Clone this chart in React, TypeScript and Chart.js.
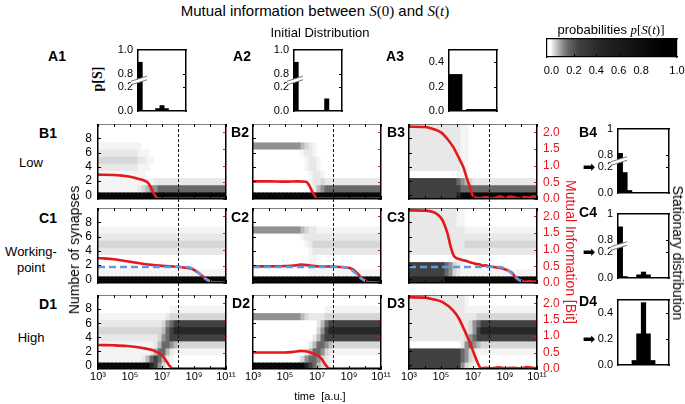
import React, { useEffect, useRef } from "react";
import { Chart, registerables } from "chart.js";

Chart.register(...registerables);

const SANS = "'Liberation Sans', Arial, Helvetica, sans-serif";
const SERIF = "'Liberation Serif', 'DejaVu Serif', 'Times New Roman', serif";
const RED = "#e3191c";
const BLUE = "#5b9be3";
Chart.defaults.font.family = SANS;

// ---------------- data ----------------
const LOG_T_MIN = 3;
const LOG_T_MAX = 11;
const LOG_T_STEP = 0.25; // width of one heatmap column, in decades
const THRESHOLD_LOG_T = 8;
const X_TICKS = [3, 4, 5, 6, 7, 8, 9, 10, 11];
const X_LABELLED = [3, 5, 7, 9, 11];
const SYN_MIN = -0.5;
const SYN_MAX = 10;
const SYN_TICKS = [0, 2, 4, 6, 8];
const MI_MAX = 2.25;
const MI_TICKS = [0, 0.5, 1, 1.5, 2];

// heatmap cell code (digit) -> probability
const PROB_LEVELS = [0, 0.005, 0.015, 0.03, 0.06, 0.1, 0.15, 0.25, 0.45, 0.9];
// probability -> gray value
const GRAY_STOPS = [
  [0, 255], [0.005, 244], [0.015, 232], [0.03, 214], [0.06, 185], [0.1, 145],
  [0.15, 105], [0.25, 65], [0.45, 38], [0.9, 8], [1, 0],
];

// Heatmaps: rows from state 10 (top) to state 0 (bottom); 32 columns from 10^3 to 10^11
const HEAT_B1 = [
  "00000000 00000000 00000000 00000000",
  "00000000 00000000 00000000 00000000",
  "00000000 00000000 00000000 00000000",
  "11111111 11100000 00000000 00000000",
  "22222222 22111000 00000000 00000000",
  "33333333 33221100 00000000 00000000",
  "22222222 22111000 00000000 00000000",
  "11111111 11110000 00000000 00000000",
  "11111111 11111122 22222222 22222222",
  "11111111 11234556 66666666 66666666",
  "99999999 99999999 99999999 99999999",
];
const HEAT_B2 = [
  "00000000 00000000 00000000 00000000",
  "00000000 00000000 00000000 00000000",
  "00000000 00000000 00000000 00000000",
  "55555555 55554321 00000000 00000000",
  "00000000 00001221 00000000 00000000",
  "00000000 00000122 10000000 00000000",
  "00000000 00000122 10000000 00000000",
  "00000000 00000012 21000000 00000000",
  "00000000 00000012 23222222 22222222",
  "00000000 00000002 45666666 66666666",
  "99999999 99999999 99999999 99999999",
];
const HEAT_B3 = [
  "22222222 22222110 00000000 00000000",
  "22222222 22222110 00000000 00000000",
  "22222222 22222110 00000000 00000000",
  "22222222 22222110 00000000 00000000",
  "22222222 22222110 00000000 00000000",
  "22222222 22222110 00000000 00000000",
  "22222222 22222110 00000000 00000000",
  "00000000 00001110 00000000 00000000",
  "77777777 77776543 22222222 22222222",
  "77777777 77777666 66666666 66666666",
  "77777777 77778999 99999999 99999999",
];
const HEAT_C1 = [
  "00000000 00000000 00000000 00000000",
  "00000000 00000000 00000000 00000000",
  "00000000 00000000 00000000 00000000",
  "11111111 11111111 11111111 11111111",
  "22222222 22222222 22222222 22222222",
  "33333333 33333333 33333333 33333333",
  "22222222 22222222 22222222 22222222",
  "00000000 00000000 00000000 00000000",
  "00000000 00000000 00000000 00000000",
  "11111111 11111111 11111111 11111111",
  "99999999 99999999 99999999 99999999",
];
const HEAT_C2 = [
  "00000000 00000000 00000000 00000000",
  "00000000 00000000 00000000 00000000",
  "00000000 00000000 00000000 00000000",
  "55555555 55554322 11111111 11111111",
  "00000000 00001222 22222222 22222222",
  "00000000 00000123 33333333 33333333",
  "00000000 00000012 22222222 22222222",
  "00000000 00000011 00000000 00000000",
  "00000000 00000011 00000000 00000000",
  "00000000 00000011 11111111 11111111",
  "99999999 99999999 99999999 99999999",
];
const HEAT_C3 = [
  "22222222 22221100 00000000 00000000",
  "22222222 22221100 00000000 00000000",
  "22222222 22221100 00000000 00000000",
  "22222222 22222211 11111111 11111111",
  "22222222 22222222 22222222 22222222",
  "22222222 22222233 33333333 33333333",
  "22222222 22222222 22222222 22222222",
  "00000000 00001100 00000000 00000000",
  "77777777 76532100 00000000 00000000",
  "77777777 76532111 11111111 11111111",
  "88888888 89999999 99999999 99999999",
];
const HEAT_D1 = [
  "00000000 00000000 00000000 00000000",
  "00000000 00000000 00000000 00000000",
  "00000000 00000000 00111111 11111111",
  "11111111 11111111 12333333 33333333",
  "22222222 22222222 35677777 77777777",
  "33333333 33333333 46788888 88888888",
  "22222222 22222223 56777777 77777777",
  "11111111 11111124 66543333 33333333",
  "11111111 11111246 64211111 11111111",
  "11111111 11124676 42100000 00000000",
  "99999999 99999875 31000000 00000000",
];
const HEAT_D2 = [
  "00000000 00000000 00000000 00000000",
  "00000000 00000000 00000000 00000000",
  "00000000 00000000 00111111 11111111",
  "55555555 55554322 22333333 33333333",
  "00000000 00000000 24677777 77777777",
  "00000000 00000000 35788888 88888888",
  "00000000 00000002 46777777 77777777",
  "00000000 00000024 66543333 33333333",
  "00000000 00000246 65321111 11111111",
  "00000000 00013566 53210000 00000000",
  "99999999 99999876 43210000 00000000",
];
const HEAT_D3 = [
  "22222222 22222210 00000000 00000000",
  "22222222 22222210 00000000 00000000",
  "22222222 22222211 11111111 11111111",
  "22222222 22222222 23333333 33333333",
  "22222222 22222223 56777777 77777777",
  "22222222 22222223 57888888 88888888",
  "22222222 22222235 67777777 77777777",
  "00000000 00000256 54333333 33333333",
  "77777777 77777653 21111111 11111111",
  "77777777 77777653 21000000 00000000",
  "77777777 77777532 10000000 00000000",
];

// Mutual information [bit] vs log10(time)
const MI_B1 = [[3, 0.73], [4, 0.72], [4.5, 0.7], [5, 0.67], [5.5, 0.61], [6, 0.53], [6.15, 0.47], [6.4, 0.25], [6.6, 0.08], [6.75, 0.01], [11, 0.01]];
const MI_B2 = [[3, 0.53], [4, 0.53], [5, 0.52], [5.8, 0.53], [6.3, 0.52], [6.5, 0.42], [6.7, 0.22], [6.9, 0.07], [7.05, 0.01], [11, 0.01]];
const MI_B3 = [[3, 2.17], [4, 2.16], [4.5, 2.1], [5, 2.0], [5.4, 1.8], [5.75, 1.57], [6.1, 1.25], [6.4, 0.95], [6.6, 0.65], [6.8, 0.37], [7.0, 0.09], [7.2, 0.04], [7.5, 0.03], [7.8, 0.06], [8.1, 0.02], [8.4, 0.04], [8.7, 0.08], [9.0, 0.03], [9.3, 0.07], [9.6, 0.05], [9.9, 0.02], [10.2, 0.06], [10.5, 0.04], [10.8, 0.08], [11, 0.05]];
const MI_C1 = [[3, 0.75], [4, 0.71], [4.8, 0.65], [5.5, 0.6], [6, 0.56], [6.85, 0.52], [7.5, 0.5], [8.1, 0.48], [8.6, 0.45], [8.9, 0.42], [9.3, 0.3], [9.75, 0.12], [10.15, 0.03], [10.5, 0.01], [11, 0.01]];
const MI_C2 = [[3, 0.5], [4, 0.5], [5, 0.51], [5.5, 0.52], [6, 0.55], [6.5, 0.53], [7, 0.5], [8, 0.49], [8.7, 0.47], [9.2, 0.42], [9.5, 0.3], [9.8, 0.15], [10.1, 0.05], [10.4, 0.01], [11, 0.02]];
const MI_C3 = [[3, 2.18], [4, 2.17], [4.5, 2.13], [4.8, 2.05], [5.1, 1.88], [5.4, 1.5], [5.6, 1.1], [5.8, 0.82], [6.0, 0.74], [6.2, 0.71], [6.4, 0.68], [6.6, 0.66], [6.8, 0.62], [7.0, 0.6], [7.2, 0.57], [7.4, 0.56], [7.6, 0.52], [7.8, 0.53], [8.0, 0.5], [8.2, 0.49], [8.4, 0.47], [8.6, 0.46], [8.8, 0.44], [9.0, 0.41], [9.2, 0.37], [9.45, 0.3], [9.6, 0.2], [9.75, 0.12], [9.9, 0.08], [10.1, 0.06], [10.3, 0.03], [10.5, 0.06], [10.7, 0.04], [11, 0.05]];
const MI_D1 = [[3, 0.73], [4, 0.72], [4.8, 0.7], [5.5, 0.66], [6, 0.62], [6.5, 0.56], [6.9, 0.45], [7.1, 0.36], [7.3, 0.22], [7.5, 0.08], [7.7, 0.01], [11, 0.01]];
const MI_D2 = [[3, 0.5], [4, 0.5], [5, 0.5], [5.5, 0.52], [6, 0.55], [6.3, 0.54], [6.6, 0.5], [7, 0.42], [7.3, 0.3], [7.5, 0.15], [7.7, 0.03], [7.9, 0.01], [11, 0.01]];
const MI_D3 = [[3, 2.18], [4, 2.17], [4.5, 2.12], [5.1, 2.03], [5.75, 1.78], [6.1, 1.55], [6.4, 1.25], [6.7, 0.92], [6.9, 0.68], [7.1, 0.42], [7.3, 0.18], [7.5, 0.02], [7.8, 0.04], [8.2, 0.02], [8.6, 0.05], [9, 0.02], [9.5, 0.04], [10, 0.02], [10.4, 0.06], [10.8, 0.03], [11, 0.03]];
// blue dashed reference curves (working point row)
const BLUE_C1 = [[3, 0.48], [8.5, 0.48], [8.9, 0.44], [9.3, 0.3], [9.7, 0.13], [10.1, 0.03], [10.5, 0], [11, 0]];
const BLUE_C2 = [[3, 0.48], [8.6, 0.48], [9.0, 0.43], [9.4, 0.3], [9.8, 0.12], [10.2, 0.02], [10.5, 0], [11, 0]];
const BLUE_C3 = [[3, 0.48], [8.6, 0.48], [9.0, 0.44], [9.4, 0.3], [9.8, 0.12], [10.2, 0.02], [10.5, 0], [11, 0]];

// Histograms: probability of states 0..10
const P_A1 = [0.9, 0.005, 0.002, 0.005, 0.02, 0.045, 0.02, 0.004, 0, 0, 0];
const P_A2 = [0.9, 0, 0, 0, 0, 0, 0, 0.1, 0, 0, 0];
const P_A3 = [0.3, 0.3, 0.3, 0, 0.014, 0.014, 0.014, 0.014, 0.014, 0.014, 0.014];
const P_B4 = [0.81, 0.16, 0.02, 0.004, 0, 0, 0, 0, 0, 0, 0];
const P_C4 = [0.9, 0.012, 0.002, 0.004, 0.025, 0.047, 0.025, 0.005, 0, 0, 0];
const P_D4 = [0, 0, 0.004, 0.035, 0.24, 0.48, 0.24, 0.035, 0.004, 0, 0];
const BROKEN_TICKS = [0, 0.2, 0.8, 1.0];
const BROKEN_LABELS_A = ["0.0", "0.2", "0.8", "1.0"];
const BROKEN_LABELS_S = ["0.0", "0.2", "0.8", "1"];
const PLAIN_TICKS = [0, 0.2, 0.4];
const PLAIN_LABELS = ["0.0", "0.2", "0.4"];
const BREAK_AT = 0.5;

// colour bar
const CBAR_MIN = -0.04;
const CBAR_MAX = 1.12;
const CBAR_TICKS = [0, 0.2, 0.4, 0.6, 0.8, 1.12];
const CBAR_LABELS = ["0.0", "0.2", "0.4", "0.6", "0.8", "1.0"];

// ---------------- layout ----------------
const COL_LEFT = [98, 253, 409];
const BOX_W = 128;
const ROW_TOP = [124, 208, 295];
const ROW_H = [75, 75, 74];
const LW = 24;
const RW = 30;
const XH = 20;
const TICK_LEN = 3;

// ---------------- helpers ----------------
function grayOf(p: number): string {
  const s = GRAY_STOPS;
  let g = s[s.length - 1][1];
  if (p <= s[0][0]) g = s[0][1];
  else {
    for (let i = 1; i < s.length; i++) {
      if (p <= s[i][0]) {
        const [p0, g0] = s[i - 1];
        const [p1, g1] = s[i];
        g = g0 + ((g1 - g0) * (p - p0)) / (p1 - p0);
        break;
      }
    }
  }
  const v = Math.round(g);
  return `rgb(${v},${v},${v})`;
}
const SUP: Record<string, string> = { "0": "⁰", "1": "¹", "2": "²", "3": "³", "4": "⁴", "5": "⁵", "6": "⁶", "7": "⁷", "8": "⁸", "9": "⁹" };
const sup = (n: number) => String(n).split("").map((d) => SUP[d]).join("");
function fix(size: number, dim: "width" | "height") {
  return (s: any) => {
    s[dim] = size;
    s.paddingLeft = 0; s.paddingRight = 0; s.paddingTop = 0; s.paddingBottom = 0;
  };
}
const ticksAt = (vals: number[]) => (s: any) => { s.ticks = vals.map((v) => ({ value: v })); };
const BORDER = { display: true, color: "#000", width: 1.5, z: 1 };
const NOGRID = { display: false, drawTicks: false };
const baseOptions = (padding: any) => ({
  animation: false, responsive: false, maintainAspectRatio: false, devicePixelRatio: 1, events: [],
  layout: { padding },
  plugins: { legend: { display: false }, tooltip: { enabled: false } },
});

function heatDecor(extendBelow: number) {
  return {
    id: "heatDecor",
    afterDatasetsDraw(chart: any) {
      const { ctx, chartArea: a, scales } = chart;
      ctx.save();
      ctx.lineWidth = 1;
      ctx.strokeStyle = "#000";
      ctx.beginPath();
      for (const v of X_TICKS) {
        const px = Math.round(scales.x.getPixelForValue(v)) + 0.5;
        ctx.moveTo(px, a.top); ctx.lineTo(px, a.top + TICK_LEN);
        ctx.moveTo(px, a.bottom); ctx.lineTo(px, a.bottom - TICK_LEN);
      }
      for (const v of SYN_TICKS) {
        const py = Math.round(scales.y.getPixelForValue(v)) + 0.5;
        ctx.moveTo(a.left, py); ctx.lineTo(a.left + TICK_LEN, py);
      }
      ctx.stroke();
      ctx.strokeStyle = RED;
      ctx.beginPath();
      for (const v of MI_TICKS) {
        const py = Math.round(scales.y2.getPixelForValue(v)) + 0.5;
        ctx.moveTo(a.right, py); ctx.lineTo(a.right - TICK_LEN, py);
      }
      ctx.stroke();
      const tx = Math.round(scales.x.getPixelForValue(THRESHOLD_LOG_T)) + 0.5;
      ctx.strokeStyle = "#111";
      ctx.setLineDash([3, 2]);
      ctx.beginPath();
      ctx.moveTo(tx, a.top); ctx.lineTo(tx, a.bottom + extendBelow);
      ctx.stroke();
      ctx.restore();
    },
  };
}

function heatConfig(p: any, r: number, c: number): any {
  const showLeft = c === 0, showRight = c === 2, showX = r === 2;
  const gap = r < 2 ? ROW_TOP[r + 1] - ROW_TOP[r] - ROW_H[r] : 0;
  const rows: string[] = p.heat.map((s: string) => s.replace(/\s+/g, ""));
  const topState = rows.length - 1;
  const bars = rows.map((row, k) => {
    const state = topState - k;
    const chars = row.split("");
    return {
      type: "bar", order: 3, xAxisID: "x", yAxisID: "y",
      data: chars.map((_, i) => ({ x: LOG_T_MIN + LOG_T_STEP * (i + 0.5), y: [state - 0.5, state + 0.5] })),
      backgroundColor: chars.map((ch) => grayOf(PROB_LEVELS[Number(ch)])),
      borderWidth: 0, barPercentage: 1, categoryPercentage: 1, grouped: false, inflateAmount: 0.5, clip: 0,
    };
  });
  const lines: any[] = [];
  if (p.blue) {
    lines.push({
      type: "line", order: 0, xAxisID: "x", yAxisID: "y2",
      data: p.blue.map(([x, y]: number[]) => ({ x, y })),
      borderColor: BLUE, borderWidth: 2.6, borderDash: [7, 4], pointRadius: 0,
      cubicInterpolationMode: "monotone", fill: false,
    });
  }
  lines.push({
    type: "line", order: 1, xAxisID: "x", yAxisID: "y2",
    data: p.mi.map(([x, y]: number[]) => ({ x, y })),
    borderColor: RED, borderWidth: 2.6, pointRadius: 0,
    cubicInterpolationMode: "monotone", fill: false,
  });
  return {
    type: "bar",
    data: { datasets: [...lines, ...bars] },
    options: {
      ...baseOptions({ left: 0, right: 0, top: 0, bottom: gap }),
      scales: {
        x: {
          type: "linear", position: "bottom", min: LOG_T_MIN, max: LOG_T_MAX, offset: false,
          grid: NOGRID, border: BORDER, afterBuildTicks: ticksAt(X_TICKS),
          ticks: {
            display: showX, autoSkip: false, maxRotation: 0, padding: 1, color: "#000",
            font: { family: SANS, size: 11 },
            callback: (v: number) => (X_LABELLED.includes(v) ? "10" + sup(v) : ""),
          },
          afterFit: fix(showX ? XH : 0, "height"),
        },
        x2: {
          type: "linear", position: "top", min: LOG_T_MIN, max: LOG_T_MAX, offset: false,
          grid: NOGRID, border: BORDER, ticks: { display: false }, afterFit: fix(0, "height"),
        },
        y: {
          type: "linear", position: "left", min: SYN_MIN, max: SYN_MAX,
          grid: NOGRID, border: BORDER, afterBuildTicks: ticksAt(SYN_TICKS),
          ticks: { display: showLeft, autoSkip: false, padding: 6, color: "#000", font: { family: SANS, size: 12 } },
          afterFit: fix(LW, "width"),
        },
        y2: {
          type: "linear", position: "right", min: 0, max: MI_MAX,
          grid: NOGRID, border: BORDER, afterBuildTicks: ticksAt(MI_TICKS),
          ticks: {
            display: showRight, autoSkip: false, padding: 6, color: RED, font: { family: SANS, size: 12 },
            callback: (v: number) => v.toFixed(1),
          },
          afterFit: fix(RW, "width"),
        },
      },
    },
    plugins: [heatDecor(gap)],
  };
}

const HLW = 26;
const HPT = 8;
function histDecor(broken: boolean, tickVals: number[]) {
  return {
    id: "histDecor",
    afterDraw(chart: any) {
      const { ctx, chartArea: a, scales } = chart;
      ctx.save();
      ctx.strokeStyle = "#000";
      ctx.lineWidth = 1;
      ctx.beginPath();
      for (const v of tickVals) {
        const py = Math.round(scales.y.getPixelForValue(v)) + 0.5;
        if (py <= a.top + 1 || py >= a.bottom - 1) continue;
        ctx.moveTo(a.right, py); ctx.lineTo(a.right - TICK_LEN, py);
      }
      ctx.stroke();
      if (broken) {
        const y = scales.y.getPixelForValue(BREAK_AT / 2);
        const x0 = a.left - 7, x1 = a.left + 9;
        ctx.strokeStyle = "#fff";
        ctx.lineWidth = 3.5;
        ctx.beginPath(); ctx.moveTo(x0, y + 2.5); ctx.lineTo(x1, y - 2.5); ctx.stroke();
        ctx.strokeStyle = "#777";
        ctx.lineWidth = 1;
        for (const d of [-1.8, 1.8]) {
          ctx.beginPath(); ctx.moveTo(x0, y + 2.5 + d); ctx.lineTo(x1, y - 2.5 + d); ctx.stroke();
        }
      }
      ctx.restore();
    },
  };
}

function histConfig(probs: number[], broken: boolean, labels: string[]): any {
  const mapV = (v: number) => (broken && v >= BREAK_AT ? v - BREAK_AT : v);
  const realTicks = broken ? BROKEN_TICKS : PLAIN_TICKS;
  const tickVals = realTicks.map(mapV);
  return {
    type: "bar",
    data: {
      datasets: [{
        data: probs.map((pv, i) => ({ x: i, y: mapV(pv) })),
        backgroundColor: "#000", borderWidth: 0, barPercentage: 1, categoryPercentage: 1,
        grouped: false, inflateAmount: 0.3, clip: 0,
      }],
    },
    options: {
      ...baseOptions({ left: 0, right: 4, top: HPT, bottom: 4 }),
      scales: {
        x: {
          type: "linear", position: "bottom", min: -0.5, max: probs.length - 0.5, offset: false,
          grid: NOGRID, border: BORDER, ticks: { display: false }, afterBuildTicks: ticksAt([]),
          afterFit: fix(0, "height"),
        },
        x2: {
          type: "linear", position: "top", min: -0.5, max: probs.length - 0.5, offset: false,
          grid: NOGRID, border: BORDER, ticks: { display: false }, afterFit: fix(0, "height"),
        },
        y: {
          type: "linear", position: "left", min: 0, max: 0.5,
          grid: NOGRID, border: BORDER, afterBuildTicks: ticksAt(tickVals),
          ticks: {
            autoSkip: false, padding: 5, color: "#000", font: { family: SANS, size: 11 },
            callback: (_v: number, i: number) => labels[i],
          },
          afterFit: fix(HLW, "width"),
        },
        y2: {
          type: "linear", position: "right", min: 0, max: 0.5,
          grid: NOGRID, border: BORDER, ticks: { display: false }, afterFit: fix(0, "width"),
        },
      },
    },
    plugins: [histDecor(broken, tickVals)],
  };
}

function cbarConfig(): any {
  const steps: number[] = [];
  for (let v = CBAR_MIN + 0.005; v < CBAR_MAX; v += 0.01) steps.push(v);
  return {
    type: "bar",
    data: {
      datasets: [{
        data: steps.map((v) => ({ x: v, y: 1 })),
        backgroundColor: steps.map((v) => grayOf(Math.min(1, Math.max(0, v)))),
        borderWidth: 0, barPercentage: 1, categoryPercentage: 1, grouped: false, inflateAmount: 0.5, clip: 0,
      }],
    },
    options: {
      ...baseOptions({ left: 12, right: 12, top: 2, bottom: 0 }),
      scales: {
        x: {
          type: "linear", position: "bottom", min: CBAR_MIN, max: CBAR_MAX, offset: false,
          grid: NOGRID, border: { ...BORDER, width: 1.2 }, afterBuildTicks: ticksAt(CBAR_TICKS),
          ticks: {
            autoSkip: false, maxRotation: 0, padding: 7, color: "#000", font: { family: SANS, size: 11 },
            callback: (_v: number, i: number) => CBAR_LABELS[i],
          },
          afterFit: fix(26, "height"),
        },
        x2: {
          type: "linear", position: "top", min: CBAR_MIN, max: CBAR_MAX, offset: false,
          grid: NOGRID, border: { ...BORDER, width: 1.2 }, ticks: { display: false }, afterFit: fix(0, "height"),
        },
        y: {
          type: "linear", position: "left", min: 0, max: 1, grid: NOGRID, border: { ...BORDER, width: 1.2 },
          ticks: { display: false }, afterFit: fix(0, "width"),
        },
        y2: {
          type: "linear", position: "right", min: 0, max: 1, grid: NOGRID, border: { ...BORDER, width: 1.2 },
          ticks: { display: false }, afterFit: fix(0, "width"),
        },
      },
    },
    plugins: [{
      id: "cbarTicks",
      afterDraw(chart: any) {
        const { ctx, chartArea: a, scales } = chart;
        ctx.save();
        ctx.strokeStyle = "#000";
        ctx.lineWidth = 1;
        ctx.beginPath();
        for (const v of CBAR_TICKS.slice(1, -1)) {
          const px = Math.round(scales.x.getPixelForValue(v)) + 0.5;
          ctx.moveTo(px, a.bottom); ctx.lineTo(px, a.bottom - TICK_LEN);
        }
        ctx.stroke();
        ctx.restore();
      },
    }],
  };
}

// ---------------- components ----------------
function ChartBox({ x, y, w, h, make }: any) {
  const ref = useRef<HTMLCanvasElement>(null);
  useEffect(() => {
    const chart = new Chart(ref.current as HTMLCanvasElement, make());
    return () => chart.destroy();
  }, []);
  return (
    <canvas ref={ref} width={w} height={h}
      style={{ position: "absolute", left: x, top: y, width: w, height: h, display: "block" }} />
  );
}

function T({ x, y, children, size = 13, bold = false, color = "#000", rot = 0, family = SANS }: any) {
  return (
    <div style={{
      position: "absolute", left: x, top: y, transform: `translate(-50%, -50%) rotate(${rot}deg)`,
      fontSize: size, fontWeight: bold ? "bold" : "normal", color, fontFamily: family,
      whiteSpace: "nowrap", lineHeight: 1,
    }}>{children}</div>
  );
}
const M = ({ children }: any) => <span style={{ fontFamily: SERIF, fontStyle: "italic" }}>{children}</span>;
const U = ({ children }: any) => <span style={{ fontFamily: SERIF }}>{children}</span>;

const PANELS = [
  [{ heat: HEAT_B1, mi: MI_B1 }, { heat: HEAT_B2, mi: MI_B2 }, { heat: HEAT_B3, mi: MI_B3 }],
  [{ heat: HEAT_C1, mi: MI_C1, blue: BLUE_C1 }, { heat: HEAT_C2, mi: MI_C2, blue: BLUE_C2 }, { heat: HEAT_C3, mi: MI_C3, blue: BLUE_C3 }],
  [{ heat: HEAT_D1, mi: MI_D1 }, { heat: HEAT_D2, mi: MI_D2 }, { heat: HEAT_D3, mi: MI_D3 }],
];

const HISTS = [
  { key: "A1", box: [138, 50, 48, 61], probs: P_A1, broken: true, labels: BROKEN_LABELS_A },
  { key: "A2", box: [294, 50, 48, 61], probs: P_A2, broken: true, labels: BROKEN_LABELS_A },
  { key: "A3", box: [449, 50, 48, 61], probs: P_A3, broken: false, labels: PLAIN_LABELS },
  { key: "B4", box: [618, 129, 51, 64], probs: P_B4, broken: true, labels: BROKEN_LABELS_S },
  { key: "C4", box: [618, 214, 51, 64], probs: P_C4, broken: true, labels: BROKEN_LABELS_S },
  { key: "D4", box: [618, 300, 51, 65], probs: P_D4, broken: false, labels: PLAIN_LABELS },
];

export default function App() {
  const heatBoxes: any[] = [];
  PANELS.forEach((row, r) => {
    row.forEach((p, c) => {
      const gap = r < 2 ? ROW_TOP[r + 1] - ROW_TOP[r] - ROW_H[r] : XH;
      heatBoxes.push(
        <ChartBox key={`h${r}${c}`} x={COL_LEFT[c] - LW} y={ROW_TOP[r]} w={LW + BOX_W + RW} h={ROW_H[r] + gap}
          make={() => heatConfig(p, r, c)} />
      );
    });
  });
  const histBoxes = HISTS.map((hd) => {
    const [bx, by, bw, bh] = hd.box;
    return (
      <ChartBox key={hd.key} x={bx - HLW} y={by - HPT} w={HLW + bw + 4} h={HPT + bh + 4}
        make={() => histConfig(hd.probs, hd.broken, hd.labels)} />
    );
  });
  const arrowYs = [167, 252, 339];
  return (
    <div style={{ position: "absolute", left: 0, top: 0, width: 685, height: 404, background: "#fff", overflow: "hidden" }}>
      {heatBoxes}
      {histBoxes}
      <ChartBox x={547 - 12} y={39 - 2} w={130 + 24} h={2 + 18 + 26} make={cbarConfig} />

      <T x={315} y={11} size={15}>Mutual information between <M>S</M><U>(0)</U> and <M>S</M><U>(</U><M>t</M><U>)</U></T>
      <T x={320} y={32} size={13}>Initial Distribution</T>
      <T x={611} y={29} size={13}>probabilities <M>p</M><U>[</U><M>S</M><U>(</U><M>t</M><U>)]</U></T>

      <T x={57} y={56} size={14} bold>A1</T>
      <T x={242} y={56} size={14} bold>A2</T>
      <T x={395} y={56} size={14} bold>A3</T>
      <T x={98} y={79} size={14} bold rot={-90} family={SERIF}>p[S]</T>

      <T x={48} y={133} size={14} bold>B1</T>
      <T x={48} y={218} size={14} bold>C1</T>
      <T x={48} y={304} size={14} bold>D1</T>
      <T x={240} y={132} size={14} bold>B2</T>
      <T x={240} y={217} size={14} bold>C2</T>
      <T x={241} y={303} size={14} bold>D2</T>
      <T x={396} y={132} size={14} bold>B3</T>
      <T x={396} y={217} size={14} bold>C3</T>
      <T x={396} y={303} size={14} bold>D3</T>
      <T x={588} y={132} size={14} bold>B4</T>
      <T x={588} y={212} size={14} bold>C4</T>
      <T x={588} y={301} size={14} bold>D4</T>

      <T x={31} y={162} size={13}>Low</T>
      <T x={31} y={251} size={13}>Working-</T>
      <T x={31} y={267} size={13}>point</T>
      <T x={31} y={337} size={13}>High</T>

      <T x={74} y={250} size={14} rot={-90}>Number of synapses</T>
      <T x={571} y={252} size={14} rot={90} color={RED}>Mutual Information [Bit]</T>
      <T x={678} y={253} size={14} rot={90}>Stationary distribution</T>
      <T x={320} y={396} size={11}>time&nbsp; [a.u.]</T>

      {arrowYs.map((ay, i) => (
        <T key={i} x={589} y={ay} size={15} family="'DejaVu Sans', sans-serif">➡</T>
      ))}
    </div>
  );
}
